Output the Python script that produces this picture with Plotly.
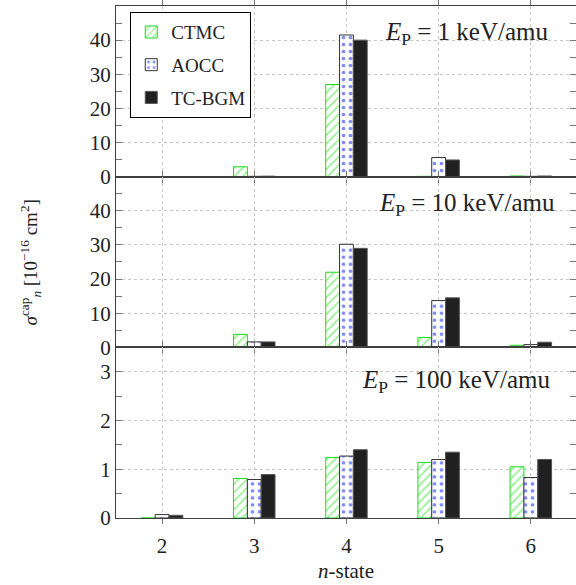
import plotly.graph_objects as go
from plotly.subplots import make_subplots

n_states = [2, 3, 4, 5, 6]
series_names = ["CTMC", "AOCC", "TC-BGM"]

# 1 keV/amu
ctmc_1 = [0.0, 2.9, 27.0, 0.1, 0.2]
aocc_1 = [0.0, 0.1, 41.5, 5.6, 0.1]
tcbgm_1 = [0.0, 0.15, 40.0, 4.9, 0.2]
# 10 keV/amu
ctmc_10 = [0.0, 3.8, 22.0, 2.9, 0.6]
aocc_10 = [0.0, 1.6, 30.2, 13.7, 0.8]
tcbgm_10 = [0.0, 1.6, 29.0, 14.5, 1.5]
# 100 keV/amu
ctmc_100 = [0.0, 0.81, 1.24, 1.14, 1.05]
aocc_100 = [0.07, 0.79, 1.27, 1.20, 0.83]
tcbgm_100 = [0.055, 0.89, 1.40, 1.35, 1.20]

panel_labels = ["<i>E</i><sub>P</sub> = 1 keV/amu",
                "<i>E</i><sub>P</sub> = 10 keV/amu",
                "<i>E</i><sub>P</sub> = 100 keV/amu"]
panels = [(ctmc_1, aocc_1, tcbgm_1), (ctmc_10, aocc_10, tcbgm_10), (ctmc_100, aocc_100, tcbgm_100)]

FONT = "Liberation Serif"
GREEN = "#16e016"
BLUE = "#0018ff"

styles = [
    dict(color="white", line=dict(color=GREEN, width=1),
         pattern=dict(shape="/", fgcolor=GREEN, bgcolor="white", size=6, solidity=0.25)),
    dict(color="white", line=dict(color="#333333", width=1),
         pattern=dict(shape=".", fgcolor=BLUE, bgcolor="white", size=7, solidity=0.22)),
    dict(color="#202020", line=dict(color="#555555", width=1)),
]

fig = make_subplots(rows=3, cols=1, shared_xaxes=True, vertical_spacing=0)

for r, data in enumerate(panels, start=1):
    for i, (name, vals) in enumerate(zip(series_names, data)):
        fig.add_trace(go.Bar(x=n_states, y=vals, name=name, marker=styles[i],
                             showlegend=(r == 1), legendgroup=name), row=r, col=1)

GRID = "#c4c4c4"
TICKC = "#777777"
axis_common = dict(showline=True, linecolor="#404040", linewidth=1, mirror="ticks",
                   showgrid=True, gridcolor=GRID, griddash="dot", gridwidth=1,
                   zeroline=False, tickfont=dict(family=FONT, size=21, color="#222"),
                   tickcolor=TICKC)

yranges = [[0, 50], [0, 50], [0, 3.5]]
ytickvals = [[0, 10, 20, 30, 40], [0, 10, 20, 30, 40], [0, 1, 2, 3]]
yminor = [[5, 15, 25, 35, 45], [5, 15, 25, 35, 45], [0.5, 1.5, 2.5]]
for r in range(1, 4):
    fig.update_yaxes(range=yranges[r - 1], tickmode="array", tickvals=ytickvals[r - 1],
                     ticks="inside", ticklen=6,
                     minor=dict(tickmode="array", tickvals=yminor[r - 1], ticks="inside",
                                ticklen=6, tickcolor=TICKC, showgrid=False),
                     row=r, col=1, **axis_common)
    fig.update_xaxes(range=[1.5, 6.49], tickmode="array", tickvals=n_states,
                     ticks="outside", ticklen=5, ticklabelstandoff=4,
                     row=r, col=1, **axis_common)

fig.update_layout(
    width=576, height=585,
    margin=dict(l=116, r=0, t=6, b=67),
    paper_bgcolor="white", plot_bgcolor="white",
    barmode="group", bargap=0.55, bargroupgap=0,
    font=dict(family=FONT, size=20, color="#222"),
    legend=dict(x=0.031, y=0.988, xanchor="left", yanchor="top",
                bordercolor="black", borderwidth=1, bgcolor="white",
                font=dict(family=FONT, size=19, color="#222"),
                tracegroupgap=5),
    showlegend=True,
)

ann_y = [0.947, 0.613, 0.266]
ann_x = [0.945, 0.958, 0.951]
for lab, xx, yy in zip(panel_labels, ann_x, ann_y):
    fig.add_annotation(text=lab, x=xx, y=yy, xref="paper", yref="paper",
                       xanchor="right", yanchor="middle", showarrow=False,
                       font=dict(family=FONT, size=25, color="#222"))

fig.add_annotation(text="<i>σ</i><sup>cap</sup><sub><i>n</i></sub> [10<sup>−16</sup> cm<sup>2</sup>]",
                   x=-0.186, y=0.5, xref="paper", yref="paper", textangle=-90,
                   xanchor="center", yanchor="middle", showarrow=False,
                   font=dict(family=FONT, size=19, color="#222"))
fig.add_annotation(text="<i>n</i>-state", x=0.5, y=-0.104, xref="paper", yref="paper",
                   xanchor="center", yanchor="middle", showarrow=False,
                   font=dict(family=FONT, size=21, color="#222"))

fig.write_html("out.html")
